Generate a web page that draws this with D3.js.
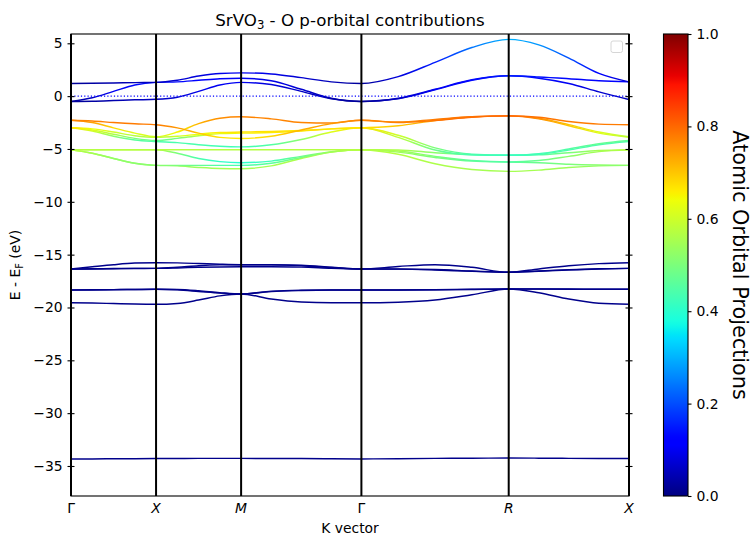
<!DOCTYPE html>
<html><head><meta charset="utf-8">
<script src="https://cdn.jsdelivr.net/npm/d3@7"></script>
<style>body{margin:0;background:#fff}svg{display:block}text{font-family:"DejaVu Sans",sans-serif;fill:#000}</style>
</head><body><svg id="c" width="756" height="544"></svg>
<script>
// ---- k-path ----
const kLabels = ["Γ","X","M","Γ","R","X"];
const kItalic = [false,true,true,false,true,true];
const kNodes = [0, 0.5, 1.0, 1.7071, 2.5731, 3.2802];
const segFractions = [0, 0.25, 0.5, 0.75, 1];
const yTicks = [5,0,-5,-10,-15,-20,-25,-30,-35];
const cbarTicks = [0,0.2,0.4,0.6,0.8,1.0];
const fermiLevel = 0;

// ---- band energies (eV), samples along Γ-X | X-M | M-Γ | Γ-R | R-X ----
const t2gA_E = [1.20,1.21,1.24,1.28,1.30, 1.50,1.90,2.15,2.20, 2.10,1.75,1.35,1.20, 1.85,3.20,4.60,5.37, 4.85,3.60,2.15,1.35];
const t2gA_W = [.02,.03,.04,.05,.06, .07,.08,.09,.10, .09,.07,.05,.02, .08,.15,.24,.30, .27,.20,.12,.07];
const t2gB_E = [-0.50,-0.15,0.45,1.05,1.30, 1.35,1.50,1.65,1.70, 1.45,0.65,-0.20,-0.50, -0.20,0.65,1.55,1.92, 1.82,1.65,1.45,1.35];
const t2gB_W = [.02,.06,.10,.13,.14, .13,.12,.11,.10, .09,.07,.04,.02, .06,.10,.13,.15, .14,.13,.12,.12];
const t2gC_E = [-0.50,-0.48,-0.42,-0.35,-0.30, -0.10,0.45,1.05,1.30, 1.10,0.45,-0.25,-0.50, -0.25,0.60,1.50,1.92, 1.70,1.20,0.40,-0.32];
const t2gC_W = [.02,.03,.04,.05,.06, .07,.09,.10,.10, .08,.06,.04,.02, .06,.10,.13,.15, .13,.10,.07,.05];

const op1_E = [-2.28,-2.35,-2.50,-2.62,-2.70, -3.00,-3.50,-3.90,-4.00, -3.80,-3.20,-2.60,-2.28, -2.45,-2.20,-1.95,-1.87, -2.00,-2.40,-2.65,-2.70];
const op1_W = [.77,.77,.78,.78,.78, .75,.70,.67,.66, .68,.72,.75,.77, .77,.78,.79,.80, .79,.78,.78,.78];
const op2_E = [-2.28,-2.50,-3.00,-3.50,-3.85, -3.40,-2.60,-2.10,-1.96, -2.15,-2.50,-2.55,-2.28, -2.50,-2.30,-2.00,-1.87, -2.10,-2.70,-3.40,-3.85];
const op2_W = [.77,.74,.68,.62,.60, .65,.72,.76,.77, .77,.77,.77,.77, .78,.79,.80,.80, .76,.70,.62,.58];
const op3_E = [-3.00,-3.10,-3.40,-3.75,-3.90, -3.80,-3.60,-3.45,-3.40, -3.35,-3.25,-3.10,-3.00, -2.80,-2.30,-1.95,-1.87, -2.15,-2.80,-3.50,-3.90];
const op3_W = [.67,.64,.60,.57,.56, .60,.64,.66,.67, .67,.67,.67,.67, .70,.74,.78,.80, .76,.70,.62,.58];
const op4_E = [-3.00,-3.20,-3.60,-4.00,-4.20, -4.00,-3.75,-3.55,-3.50, -3.45,-3.30,-3.10,-3.00, -3.70,-4.90,-5.50,-5.60, -5.45,-5.00,-4.50,-4.20];
const op4_W = [.67,.62,.56,.50,.47, .50,.57,.62,.65, .66,.67,.67,.67, .60,.50,.44,.42, .43,.45,.47,.47];
const op5_E = [-3.00,-3.30,-3.80,-4.15,-4.30, -4.40,-4.60,-4.75,-4.80, -4.60,-4.10,-3.40,-3.00, -3.90,-5.10,-5.55,-5.60, -5.50,-5.10,-4.60,-4.30];
const op5_W = [.67,.60,.52,.46,.44, .44,.44,.43,.43, .45,.52,.62,.67, .58,.48,.43,.42, .43,.44,.44,.44];
const op6_E = [-5.07,-5.07,-5.07,-5.07,-5.07, -5.07,-5.07,-5.07,-5.07, -5.07,-5.07,-5.07,-5.07, -5.10,-5.35,-5.55,-5.60, -5.55,-5.35,-5.15,-5.07];
const op6_W = [.57,.57,.57,.57,.57, .57,.57,.57,.57, .57,.57,.57,.57, .56,.52,.46,.43, .45,.50,.55,.57];
const op7_E = [-5.07,-5.07,-5.07,-5.07,-5.07, -5.40,-5.90,-6.20,-6.30, -6.15,-5.70,-5.25,-5.07, -5.20,-5.70,-6.10,-6.24, -6.10,-5.70,-5.25,-5.07];
const op7_W = [.57,.57,.57,.57,.57, .50,.44,.41,.40, .43,.48,.54,.57, .55,.50,.46,.45, .48,.52,.55,.57];
const op8_E = [-5.07,-5.40,-5.90,-6.35,-6.55, -6.55,-6.55,-6.55,-6.55, -6.35,-5.80,-5.30,-5.07, -5.30,-5.80,-6.15,-6.24, -6.30,-6.45,-6.52,-6.55];
const op8_W = [.57,.55,.53,.52,.52, .50,.47,.45,.44, .46,.50,.55,.57, .54,.50,.47,.46, .48,.50,.52,.52];
const op9_E = [-5.07,-5.40,-5.90,-6.35,-6.55, -6.60,-6.75,-6.85,-6.87, -6.60,-5.90,-5.30,-5.07, -5.50,-6.40,-6.95,-7.12, -7.00,-6.75,-6.60,-6.55];
const op9_W = [.57,.55,.53,.52,.52, .53,.54,.55,.55, .55,.56,.57,.57, .57,.56,.55,.55, .55,.54,.53,.52];

const s1_E = [-16.36,-16.15,-15.95,-15.80,-15.76, -15.78,-15.84,-15.91,-15.95, -15.95,-16.00,-16.18,-16.36, -16.12,-15.95,-16.20,-16.67, -16.35,-16.05,-15.85,-15.76];
const s2_E = [-16.36,-16.34,-16.32,-16.30,-16.30, -16.26,-16.20,-16.16,-16.14, -16.14,-16.18,-16.28,-16.36, -16.36,-16.40,-16.55,-16.67, -16.55,-16.42,-16.33,-16.30];
const s3_E = [-16.36,-16.35,-16.33,-16.31,-16.30, -16.20,-16.05,-15.97,-15.95, -15.97,-16.05,-16.22,-16.36, -16.37,-16.45,-16.58,-16.67, -16.58,-16.45,-16.35,-16.30];
const t1_E = [-18.34,-18.33,-18.31,-18.29,-18.28, -18.33,-18.48,-18.64,-18.72, -18.45,-18.36,-18.34,-18.34, -18.34,-18.32,-18.28,-18.25, -18.26,-18.27,-18.28,-18.28];
const t2_E = [-18.34,-18.34,-18.32,-18.30,-18.28, -18.30,-18.42,-18.60,-18.72, -18.50,-18.40,-18.35,-18.34, -18.35,-18.33,-18.29,-18.25, -18.25,-18.26,-18.27,-18.28];
const t3_E = [-19.55,-19.58,-19.63,-19.68,-19.70, -19.62,-19.30,-18.90,-18.72, -19.20,-19.48,-19.55,-19.55, -19.50,-19.30,-18.80,-18.25, -18.60,-19.20,-19.60,-19.70];
const deep_E = [-34.33,-34.33,-34.32,-34.31,-34.30, -34.29,-34.28,-34.28,-34.28, -34.29,-34.30,-34.32,-34.33, -34.31,-34.28,-34.26,-34.25, -34.26,-34.28,-34.29,-34.30];
const core_W = [.01,.01,.01,.01,.01, .01,.01,.01,.01, .01,.01,.01,.01, .01,.01,.01,.01, .01,.01,.01,.01];

const bands = [
  {e:deep_E,w:core_W},{e:t3_E,w:core_W},{e:t2_E,w:core_W},{e:t1_E,w:core_W},
  {e:s3_E,w:core_W},{e:s2_E,w:core_W},{e:s1_E,w:core_W},
  {e:op9_E,w:op9_W},{e:op8_E,w:op8_W},{e:op7_E,w:op7_W},{e:op6_E,w:op6_W},
  {e:op5_E,w:op5_W},{e:op4_E,w:op4_W},{e:op3_E,w:op3_W},{e:op2_E,w:op2_W},{e:op1_E,w:op1_W},
  {e:t2gC_E,w:t2gC_W},{e:t2gB_E,w:t2gB_W},{e:t2gA_E,w:t2gA_W}
];

// ---- layout ----
const svg = d3.select("#c");
const M = {l:71, r:629, t:34, b:496};
const kSamples = [];
kNodes.slice(0,-1).forEach((k0,i)=>{
  const k1 = kNodes[i+1];
  segFractions.forEach((f,j)=>{ if(i>0 && j===0) return; kSamples.push(k0 + f*(k1-k0)); });
});
const x = d3.scaleLinear().domain([0, kNodes[kNodes.length-1]]).range([M.l, M.r]);
const y = d3.scaleLinear().domain([-37.84, 5.88]).range([M.b, M.t]);

// jet colormap
const jetR = d3.scaleLinear().domain([0,0.35,0.66,0.89,1]).range([0,0,1,1,0.5]).clamp(true);
const jetG = d3.scaleLinear().domain([0,0.125,0.375,0.64,0.91,1]).range([0,0,1,1,0,0]).clamp(true);
const jetB = d3.scaleLinear().domain([0,0.11,0.34,0.65,1]).range([0.5,1,1,0,0]).clamp(true);
const jet = v => d3.rgb(jetR(v)*255, jetG(v)*255, jetB(v)*255).formatHex();

const defs = svg.append("defs");
defs.append("clipPath").attr("id","clip").append("rect")
  .attr("x",M.l).attr("y",M.t).attr("width",M.r-M.l).attr("height",M.b-M.t);

bands.forEach((b,i)=>{
  const g = defs.append("linearGradient").attr("id","bg"+i)
    .attr("gradientUnits","userSpaceOnUse")
    .attr("x1",M.l).attr("x2",M.r).attr("y1",0).attr("y2",0);
  kSamples.forEach((k,j)=> g.append("stop")
    .attr("offset",(x(k)-M.l)/(M.r-M.l)).attr("stop-color",jet(b.w[j])));
});

const line = d3.line().x((d,j)=>x(kSamples[j])).y(d=>y(d)).curve(d3.curveMonotoneX);
const plot = svg.append("g").attr("clip-path","url(#clip)");
bands.forEach((b,i)=>{
  plot.append("path").attr("d",line(b.e)).attr("fill","none")
    .attr("stroke","url(#bg"+i+")").attr("stroke-width",1.45);
});

// Fermi level
plot.append("line").attr("x1",M.l).attr("x2",M.r).attr("y1",y(fermiLevel)).attr("y2",y(fermiLevel))
  .attr("stroke","#0000ff").attr("stroke-width",1.2).attr("stroke-dasharray","1.2,2.1");

// frame
svg.append("rect").attr("x",M.l).attr("y",M.t).attr("width",M.r-M.l).attr("height",M.b-M.t)
  .attr("fill","none").attr("stroke","#000").attr("stroke-width",1.1);

// high-symmetry lines
svg.append("g").selectAll("line").data(kNodes).join("line")
  .attr("x1",d=>x(d)).attr("x2",d=>x(d)).attr("y1",M.t).attr("y2",M.b)
  .attr("stroke","#000").attr("stroke-width",2);

// y axes
const fs = "13.9px";
const yl = svg.append("g").attr("transform",`translate(${M.l},0)`)
  .call(d3.axisLeft(y).tickValues(yTicks).tickSize(3.5).tickPadding(4.9).tickFormat(d3.format("d")));
yl.select(".domain").remove();
yl.selectAll(".tick line").attr("x1",3.5).attr("x2",-3.5).attr("stroke","#000").attr("stroke-width",1.1);
yl.selectAll("text").style("font-size",fs).style("font-family","DejaVu Sans").attr("fill","#000");

const yr = svg.append("g").attr("transform",`translate(${M.r},0)`)
  .call(d3.axisRight(y).tickValues(yTicks).tickSize(3.5).tickFormat(""));
yr.select(".domain").remove();
yr.selectAll(".tick line").attr("x1",-3.5).attr("x2",3.5).attr("stroke","#000").attr("stroke-width",1.1);

// x labels
svg.append("g").selectAll("text").data(kNodes).join("text")
  .attr("x",d=>x(d)).attr("y",512.5).attr("text-anchor","middle")
  .style("font-size",fs).style("font-style",(d,i)=>kItalic[i]?"italic":"normal")
  .text((d,i)=>kLabels[i]);

svg.append("text").attr("x",(M.l+M.r)/2).attr("y",532.5).attr("text-anchor","middle")
  .style("font-size",fs).text("K vector");

// y label
const ylab = svg.append("text").attr("transform",`translate(20.3,${(M.t+M.b)/2}) rotate(-90)`)
  .attr("text-anchor","middle").style("font-size",fs);
ylab.append("tspan").text("E - E");
ylab.append("tspan").attr("dy",2.5).style("font-size","9.7px").text("F");
ylab.append("tspan").attr("dy",-2.5).text(" (eV)");

// title
const title = svg.append("text").attr("x",(M.l+M.r)/2).attr("y",25.7).attr("text-anchor","middle")
  .style("font-size","16.67px");
title.append("tspan").text("SrVO");
title.append("tspan").attr("dy",3.5).style("font-size","11.7px").text("3");
title.append("tspan").attr("dy",-3.5).text(" - O p-orbital contributions");

// empty legend frame
svg.append("rect").attr("x",611).attr("y",41).attr("width",11.5).attr("height",11.5).attr("rx",2)
  .attr("fill","#fff").attr("fill-opacity",0.8).attr("stroke","#d6d6d6").attr("stroke-width",1);

// colorbar
const cb = {l:663.5, r:688, t:M.t, b:M.b};
const cg = defs.append("linearGradient").attr("id","cbar").attr("x1",0).attr("x2",0).attr("y1",1).attr("y2",0);
d3.range(0,1.0001,0.01).forEach(v=> cg.append("stop").attr("offset",v).attr("stop-color",jet(v)));
svg.append("rect").attr("x",cb.l).attr("y",cb.t).attr("width",cb.r-cb.l).attr("height",cb.b-cb.t)
  .attr("fill","url(#cbar)").attr("stroke","#000").attr("stroke-width",1.1);
const cy = d3.scaleLinear().domain([0,1]).range([cb.b,cb.t]);
const ca = svg.append("g").attr("transform",`translate(${cb.r},0)`)
  .call(d3.axisRight(cy).tickValues(cbarTicks).tickSize(3.5).tickPadding(4.9).tickFormat(d3.format(".1f")));
ca.select(".domain").remove();
ca.selectAll(".tick line").attr("stroke","#000").attr("stroke-width",1.1);
ca.selectAll("text").style("font-size",fs).style("font-family","DejaVu Sans").attr("fill","#000");

svg.append("text").attr("transform",`translate(732.5,${(cb.t+cb.b)/2}) rotate(90)`)
  .attr("text-anchor","middle").style("font-size","20.8px").text("Atomic Orbital Projections");
</script></body></html>
